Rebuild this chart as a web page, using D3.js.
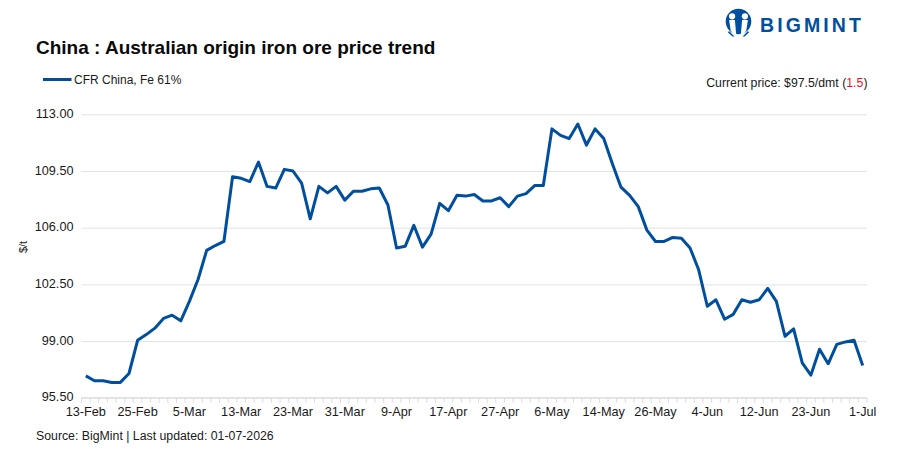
<!DOCTYPE html>
<html>
<head>
<meta charset="utf-8">
<script src="https://d3js.org/d3.v7.min.js"></script>
<style>
html,body{margin:0;padding:0;background:#fff}
svg{display:block}
text{font-family:"Liberation Sans",Arial,sans-serif;fill:#1a1a1a}
</style>
</head>
<body>
<svg id="chart" width="900" height="450"></svg>
<script>
const seriesName = "CFR China, Fe 61%";
const prices = [
  96.85,96.55,96.55,96.45,96.45,97.0,99.05,99.4,99.8,100.4,100.6,100.25,101.45,102.8,104.6,104.9,
  105.15,109.15,109.05,108.85,110.05,108.55,108.45,109.6,109.5,108.75,106.55,108.55,108.15,108.55,
  107.7,108.25,108.25,108.4,108.45,107.4,104.75,104.85,106.15,104.8,105.6,107.5,107.05,108.0,107.95,
  108.05,107.65,107.65,107.85,107.3,107.95,108.1,108.6,108.6,112.1,111.7,111.5,112.4,111.1,112.1,
  111.5,109.95,108.5,108.0,107.3,105.85,105.15,105.15,105.4,105.35,104.75,103.4,101.15,101.55,100.35,
  100.65,101.55,101.4,101.55,102.25,101.45,99.3,99.75,97.65,96.9,98.5,97.6,98.8,98.95,99.05,97.5
];
const xTickLabels = ["13-Feb","25-Feb","5-Mar","13-Mar","23-Mar","31-Mar","9-Apr","17-Apr","27-Apr","6-May","14-May","26-May","4-Jun","12-Jun","23-Jun","1-Jul"];
const xTickEvery = 6;
const yTicks = [95.5,99,102.5,106,109.5,113];

const svg = d3.select("#chart");
const plot = {left:81.5,right:867,top:114.3,bottom:397.8};

const x = d3.scaleBand().domain(d3.range(prices.length)).range([plot.left,plot.right]).padding(0);
const y = d3.scaleLinear().domain([95.5,113]).range([plot.bottom,plot.top]);

// Horizontal gridlines and value labels
const yAxis = d3.axisLeft(y).tickValues(yTicks).tickFormat(d3.format(".2f")).tickSize(plot.left-plot.right).tickPadding(8);
const gy = svg.append("g").attr("transform",`translate(${plot.left},0)`).call(yAxis);
gy.select(".domain").remove();
gy.selectAll(".tick line").attr("stroke","#e2e2e2").attr("stroke-width",1).attr("x1",0).attr("x2",plot.right-plot.left);
gy.selectAll(".tick text").attr("font-size",12.7).attr("x",-8).attr("dy","0.25em").style("font-family",'"Liberation Sans",Arial,sans-serif').style("fill","#1a1a1a");

// Category axis: ticks sit on band edges, labels on every sixth band
const gx = svg.append("g").attr("transform",`translate(0,${plot.bottom})`)
  .call(d3.axisBottom(x)
    .tickValues(d3.range(0,prices.length,xTickEvery))
    .tickFormat(i=>xTickLabels[i/xTickEvery])
    .tickSize(0).tickPadding(9));
gx.select(".domain").remove();
gx.selectAll(".tick text").attr("font-size",12.7).style("font-family",'"Liberation Sans",Arial,sans-serif').style("fill","#1a1a1a");
svg.append("g").selectAll("line")
  .data(d3.range(prices.length+1))
  .join("line")
  .attr("x1",i=>i<prices.length?x(i):plot.right)
  .attr("x2",i=>i<prices.length?x(i):plot.right)
  .attr("y1",plot.bottom).attr("y2",plot.bottom+5)
  .attr("stroke","#dcdcdc");
svg.append("line").attr("x1",plot.left).attr("x2",plot.right)
  .attr("y1",plot.bottom).attr("y2",plot.bottom).attr("stroke","#dcdcdc");

// Price line
const line = d3.line().x((d,i)=>x(i)+x.bandwidth()/2).y(d=>y(d));
svg.append("path").datum(prices)
  .attr("d",line).attr("fill","none")
  .attr("stroke","#004f9f").attr("stroke-width",3)
  .attr("stroke-linejoin","round").attr("stroke-linecap","butt");

// Title, legend, notes
svg.append("text").attr("x",36).attr("y",54).attr("font-size",19).attr("font-weight",700)
  .style("fill","#0a0a0a").text("China : Australian origin iron ore price trend");
svg.append("line").attr("x1",43).attr("x2",71.5).attr("y1",79.5).attr("y2",79.5)
  .attr("stroke","#004f9f").attr("stroke-width",3);
svg.append("text").attr("x",74).attr("y",84).attr("font-size",12).text(seriesName);

const note = svg.append("text").attr("x",867.5).attr("y",86.5).attr("text-anchor","end").attr("font-size",12.3);
note.append("tspan").text("Current price: $97.5/dmt (");
note.append("tspan").style("fill","#e8112d").text("1.5");
note.append("tspan").text(")");

svg.append("text").attr("x",36).attr("y",439.5).attr("font-size",12.3).text("Source: BigMint | Last updated: 01-07-2026");

svg.append("text").attr("transform","translate(27,247) rotate(-90)")
  .attr("text-anchor","middle").attr("font-size",11).text("$/t");

// Brand mark: two pale figures set into a blue disc, with a blue figure between them
const brand = svg.append("g").attr("transform","translate(738.5,21.5)");
brand.append("circle").attr("r",12.8).attr("fill","#004f9f");
brand.append("path").attr("fill","#fff")
  .attr("d","M-9.4,-1.5 L-3.6,-1.5 L-2.4,12 L-1,13.5 L-4.5,13.5 L-7.8,9 Z M9.4,-1.5 L3.6,-1.5 L2.4,12 L1,13.5 L4.5,13.5 L7.8,9 Z");
brand.selectAll(".head").data([-6.4,6.4]).join("circle")
  .attr("class","head").attr("cx",d=>d).attr("cy",-5.2).attr("r",3.1).attr("fill","#fff");
brand.append("path").attr("fill","#004f9f")
  .attr("d","M-9.5,9.5 L-4,15 L-6,15 L-10.5,11 Z M9.5,9.5 L4,15 L6,15 L10.5,11 Z");
svg.append("text").attr("x",760).attr("y",32).attr("font-size",19.5).attr("font-weight",700)
  .attr("letter-spacing",3.1).style("fill","#004f9f").text("BIGMINT");
</script>
</body>
</html>
